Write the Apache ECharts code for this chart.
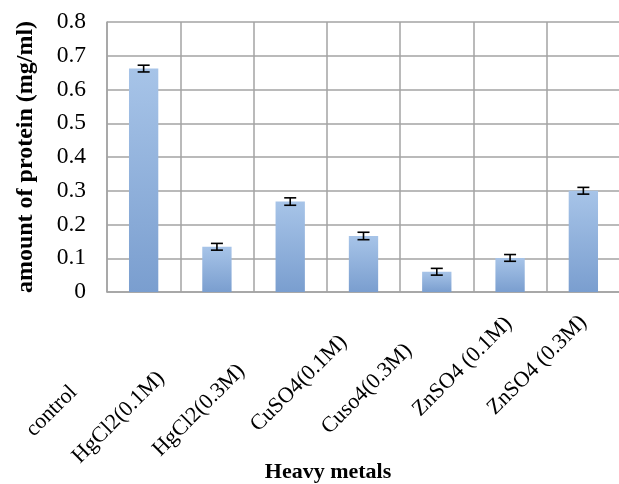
<!DOCTYPE html>
<html><head><meta charset="utf-8">
<script src="https://cdn.jsdelivr.net/npm/echarts@6/dist/echarts.min.js"></script>
<style>html,body{margin:0;padding:0;background:#fff}#c{width:619px;height:484px}</style>
</head><body><div id="c"></div>
<script>
const categories = ['control', 'HgCl2(0.1M)', 'HgCl2(0.3M)', 'CuSO4(0.1M)', 'Cuso4(0.3M)', 'ZnSO4 (0.1M)', 'ZnSO4 (0.3M)'];
const proteinValues = [0.662, 0.134, 0.268, 0.166, 0.060, 0.101, 0.300];
const errorValues = [0.010, 0.010, 0.011, 0.011, 0.010, 0.010, 0.010];
const yAxisTitle = 'amount of protein (mg/ml)';
const xAxisTitle = 'Heavy metals';

const FONT = '"Liberation Serif", "Times New Roman", serif';
const GRID = '#a3a3a3';
// per-label shift along text direction (mimics the reference layout)
const labelPad = [99, 79, 69, 28, 40, 2, 0];
const rich = {};
labelPad.forEach((p, i) => {
  rich['p' + i] = { padding: [0, p, 0, 0], fontSize: 22, fontFamily: FONT, color: '#000' };
});

const chart = echarts.init(document.getElementById('c'), null, { renderer: 'canvas' });
chart.setOption({
  animation: false,
  backgroundColor: '#fff',
  grid: { left: 107, top: 22, width: 513, height: 270, containLabel: false, outerBoundsMode: 'none' },
  xAxis: {
    type: 'category',
    data: categories,
    boundaryGap: true,
    name: xAxisTitle,
    nameLocation: 'middle',
    nameGap: 169,
    nameMoveOverlap: false,
    nameTextStyle: { fontFamily: FONT, fontSize: 22, fontWeight: 'bold', color: '#000', padding: [0, 71, 0, 0] },
    axisLine: { show: true, lineStyle: { color: GRID, width: 1.5 } },
    axisTick: { show: false },
    splitLine: { show: true, lineStyle: { color: GRID, width: 1.5 } },
    axisLabel: {
      interval: 0,
      rotate: 45,
      margin: 27,
      hideOverlap: false,
      fontFamily: FONT,
      fontSize: 22,
      color: '#000',
      formatter: (v, i) => '{p' + i + '|' + v + '}',
      rich: rich
    }
  },
  yAxis: {
    type: 'value',
    min: 0,
    max: 0.8,
    interval: 0.1,
    name: yAxisTitle,
    nameLocation: 'middle',
    nameGap: 69,
    nameMoveOverlap: false,
    nameTextStyle: { fontFamily: FONT, fontSize: 24, fontWeight: 'bold', color: '#000' },
    axisLine: { show: true, lineStyle: { color: GRID, width: 1.5 } },
    axisTick: { show: false },
    splitLine: { show: true, lineStyle: { color: GRID, width: 1.5 } },
    axisLabel: {
      margin: 21,
      fontFamily: FONT,
      fontSize: 23.5,
      color: '#000',
      formatter: v => (v === 0 ? '0' : v.toFixed(1))
    }
  },
  series: [
    {
      type: 'bar',
      data: proteinValues,
      barWidth: '40%',
      itemStyle: {
        color: new echarts.graphic.LinearGradient(0, 0, 0, 1, [
          { offset: 0, color: '#a7c4e8' },
          { offset: 1, color: '#7a9ecf' }
        ])
      }
    },
    {
      type: 'custom',
      data: categories.map((c, i) => [i, proteinValues[i], errorValues[i]]),
      z: 10,
      renderItem: function (params, api) {
        const x = api.value(0), v = api.value(1), e = api.value(2);
        const hi = api.coord([x, v + e]);
        const lo = api.coord([x, v - e]);
        const half = 6;
        const st = { stroke: '#000', lineWidth: 1.6 };
        return {
          type: 'group',
          children: [
            { type: 'line', shape: { x1: hi[0], y1: hi[1], x2: lo[0], y2: lo[1] }, style: st },
            { type: 'line', shape: { x1: hi[0] - half, y1: hi[1], x2: hi[0] + half, y2: hi[1] }, style: st },
            { type: 'line', shape: { x1: lo[0] - half, y1: lo[1], x2: lo[0] + half, y2: lo[1] }, style: st }
          ]
        };
      }
    }
  ]
});
</script></body></html>
